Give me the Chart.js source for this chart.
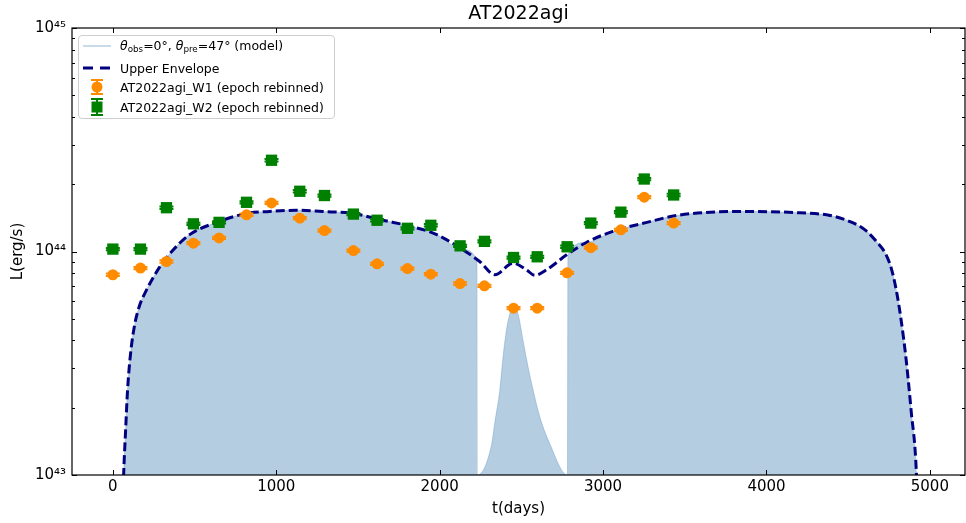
<!DOCTYPE html>
<html lang="en">
<head>
<meta charset="UTF-8">
<title>AT2022agi</title>
<script src="https://cdn.jsdelivr.net/npm/chart.js@4.4.1/dist/chart.umd.min.js"></script>
<style>
  body { margin: 0; background: #fff; font-family: 'DejaVu Sans', sans-serif; }
  #wrap { position: relative; width: 966px; height: 523px; }
  #title { position: absolute; left: 72px; width: 893px; top: 1px; text-align: center; font-size: 19px; line-height: 22px; color: #000; }
  #legend { position: absolute; left: 78px; top: 35px; width: 255px; height: 82px; border: 1px solid #cfcfcf; border-radius: 4px; background: rgba(255,255,255,0.85); font-size: 12.5px; color: #000; }
  .row { position: absolute; left: 0; height: 20px; display: flex; align-items: center; white-space: nowrap; }
  .row svg { margin-left: 4px; margin-right: 9px; }
  sub { font-size: 70%; vertical-align: -0.25em; }
</style>
</head>
<body>
<div id="wrap">
  <canvas id="chart" width="966" height="523"></canvas>
  <div id="title">AT2022agi</div>
  <div id="legend">
    <div class="row" style="top:0px">
      <svg width="28" height="20"><line x1="0" y1="10" x2="28" y2="10" stroke="rgba(70,130,180,0.45)" stroke-width="1.3"/></svg>
      <span><i>θ</i><sub>obs</sub>=0°, <i>θ</i><sub>pre</sub>=47° (model)</span>
    </div>
    <div class="row" style="top:22px">
      <svg width="28" height="20"><line x1="0" y1="10" x2="28" y2="10" stroke="#000080" stroke-width="3" stroke-dasharray="10 7"/></svg>
      <span>Upper Envelope</span>
    </div>
    <div class="row" style="top:41px">
      <svg width="28" height="20">
        <line x1="14" y1="3" x2="14" y2="17" stroke="#ff8c00" stroke-width="2"/>
        <line x1="8" y1="3" x2="20" y2="3" stroke="#ff8c00" stroke-width="2"/>
        <line x1="8" y1="17" x2="20" y2="17" stroke="#ff8c00" stroke-width="2"/>
        <circle cx="14" cy="10" r="5.5" fill="#ff8c00"/>
      </svg>
      <span>AT2022agi_W1 (epoch rebinned)</span>
    </div>
    <div class="row" style="top:61px">
      <svg width="28" height="20">
        <line x1="14" y1="2" x2="14" y2="18" stroke="#008000" stroke-width="2"/>
        <line x1="8" y1="2" x2="20" y2="2" stroke="#008000" stroke-width="2"/>
        <line x1="8" y1="18" x2="20" y2="18" stroke="#008000" stroke-width="2"/>
        <rect x="8.5" y="4.5" width="11" height="11" fill="#008000"/>
      </svg>
      <span>AT2022agi_W2 (epoch rebinned)</span>
    </div>
  </div>
</div>

<script>
// epochs (days) shared by both bands
const tDays = [0, 169, 328, 493, 650, 818, 971, 1144, 1295, 1472, 1617, 1803, 1946, 2125, 2274, 2452, 2597, 2780, 2925, 3109, 3252, 3432];

const w1Lum = [7.87e43, 8.43e43, 9.02e43, 1.09e44, 1.15e44, 1.46e44, 1.65e44, 1.41e44, 1.24e44, 1.01e44, 8.81e43,
               8.39e43, 7.92e43, 7.19e43, 7.02e43, 5.58e43, 5.58e43, 8.03e43, 1.04e44, 1.25e44, 1.75e44, 1.34e44];
const w1Err = [0.94e42, 1.0e42, 1.1e42, 1.3e42, 1.4e42, 1.75e42, 2.0e42, 1.7e42, 1.5e42, 1.2e42, 1.05e42,
               1.0e42, 0.95e42, 0.86e42, 0.84e42, 0.67e42, 0.67e42, 0.96e42, 1.25e42, 1.5e42, 2.1e42, 1.6e42];

const w2Lum = [1.025e44, 1.025e44, 1.57e44, 1.33e44, 1.35e44, 1.66e44, 2.56e44, 1.86e44, 1.78e44, 1.47e44, 1.38e44,
               1.27e44, 1.31e44, 1.06e44, 1.11e44, 9.40e43, 9.47e43, 1.05e44, 1.34e44, 1.50e44, 2.11e44, 1.79e44];
const w2Err = [1.23e42, 1.23e42, 1.9e42, 1.6e42, 1.6e42, 2.0e42, 3.1e42, 2.2e42, 2.1e42, 1.8e42, 1.65e42,
               1.5e42, 1.6e42, 1.3e42, 1.3e42, 1.1e42, 1.1e42, 1.26e42, 1.6e42, 1.8e42, 2.5e42, 2.1e42];

// upper envelope curve
const envT   = [55, 66, 78, 90, 108, 133, 164, 194, 286, 366, 470, 635, 819, 960, 1125, 1284, 1468, 1652, 1835, 1982,
                2141, 2245, 2338, 2449, 2531, 2582, 2654, 2777, 2900, 3060, 3268, 3451, 3837, 4205, 4389, 4512,
                4603, 4677, 4726, 4763, 4794, 4824, 4855, 4885, 4918, 4930];
const envLum = [5e42, 1.0e43, 1.58e43, 2.40e43, 3.47e43, 4.68e43, 5.75e43, 6.46e43, 8.51e43, 1.01e44, 1.19e44, 1.35e44,
                1.48e44, 1.51e44, 1.53e44, 1.51e44, 1.48e44, 1.38e44, 1.29e44, 1.19e44,
                1.02e44, 9.02e43, 7.87e43, 8.87e43, 8.28e43, 7.82e43, 8.28e43, 9.66e43, 1.10e44, 1.23e44, 1.35e44,
                1.45e44, 1.51e44, 1.49e44, 1.45e44, 1.36e44, 1.25e44, 1.10e44, 9.86e43, 8.45e43, 6.74e43, 4.94e43,
                3.27e43, 1.95e43, 1.0e43, 5e42];

// model for theta_obs = 0, theta_pre = 47
const modelT   = [55, 66, 78, 90, 108, 133, 164, 194, 286, 366, 470, 635, 819, 960, 1125, 1284, 1468, 1652, 1835, 1982,
                  2141, 2228, 2231, 2317, 2337, 2368, 2388, 2409, 2429, 2448, 2480, 2511, 2541, 2572, 2613, 2674,
                  2782, 2785, 2900, 3060, 3268, 3451, 3837, 4205, 4389, 4512, 4603, 4677, 4726, 4763, 4794, 4824,
                  4855, 4885, 4918, 4930];
const modelLum = [5e42, 1.0e43, 1.58e43, 2.40e43, 3.47e43, 4.68e43, 5.75e43, 6.46e43, 8.51e43, 1.01e44, 1.19e44, 1.35e44,
                  1.48e44, 1.51e44, 1.53e44, 1.51e44, 1.48e44, 1.38e44, 1.29e44, 1.19e44,
                  1.02e44, 9.12e43, 1.0e43, 1.36e43, 1.71e43, 2.40e43, 3.39e43, 4.47e43, 5.25e43, 5.75e43, 5.25e43,
                  3.98e43, 3.05e43, 2.40e43, 1.82e43, 1.38e43,
                  1.0e43, 9.7e43, 1.10e44, 1.23e44, 1.35e44, 1.45e44, 1.51e44, 1.49e44, 1.45e44, 1.36e44, 1.25e44,
                  1.10e44, 9.86e43, 8.45e43, 6.74e43, 4.94e43, 3.27e43, 1.95e43, 1.0e43, 5e42];

const xTicks = [0, 1000, 2000, 3000, 4000, 5000];
const yTicks = [1e43, 1e44, 1e45];
const yTickLabels = ['10⁴³', '10⁴⁴', '10⁴⁵'];
const yMinorTicks = [2e43, 3e43, 4e43, 5e43, 6e43, 7e43, 8e43, 9e43, 2e44, 3e44, 4e44, 5e44, 6e44, 7e44, 8e44, 9e44];

const pts = (xs, ys) => xs.map((x, i) => ({x: x, y: ys[i]}));

// error bar caps drawn on top of each marker
const errorCaps = {
    id: 'errorCaps',
    afterDatasetDraw(chart, args) {
        const ds = chart.data.datasets[args.index];
        if (!ds.errors) return;
        const ctx = chart.ctx;
        const xs = chart.scales.x, ys = chart.scales.y;
        ctx.save();
        ctx.strokeStyle = ds.backgroundColor;
        ctx.lineWidth = 2;
        ds.data.forEach((p, i) => {
            const px = xs.getPixelForValue(p.x);
            const lo = ys.getPixelForValue(p.y - ds.errors[i]);
            const hi = ys.getPixelForValue(p.y + ds.errors[i]);
            ctx.beginPath();
            ctx.moveTo(px, lo); ctx.lineTo(px, hi);
            ctx.moveTo(px - 7, lo); ctx.lineTo(px + 7, lo);
            ctx.moveTo(px - 7, hi); ctx.lineTo(px + 7, hi);
            ctx.stroke();
        });
        ctx.restore();
    }
};

// frame on all four sides with inward ticks
const frame = {
    id: 'frame',
    afterDraw(chart) {
        const {ctx, chartArea: a} = chart;
        const xs = chart.scales.x, ys = chart.scales.y;
        ctx.save();
        ctx.strokeStyle = '#000';
        ctx.lineWidth = 1.2;
        ctx.strokeRect(a.left, a.top, a.right - a.left, a.bottom - a.top);
        ctx.lineWidth = 1;
        ctx.beginPath();
        xTicks.forEach(v => {
            const px = Math.round(xs.getPixelForValue(v)) + 0.5;
            ctx.moveTo(px, a.bottom); ctx.lineTo(px, a.bottom - 5);
            ctx.moveTo(px, a.top); ctx.lineTo(px, a.top + 5);
        });
        yTicks.forEach(v => {
            const py = Math.round(ys.getPixelForValue(v)) + 0.5;
            ctx.moveTo(a.left, py); ctx.lineTo(a.left + 5, py);
            ctx.moveTo(a.right, py); ctx.lineTo(a.right - 5, py);
        });
        yMinorTicks.forEach(v => {
            const py = Math.round(ys.getPixelForValue(v)) + 0.5;
            ctx.moveTo(a.left, py); ctx.lineTo(a.left + 3, py);
            ctx.moveTo(a.right, py); ctx.lineTo(a.right - 3, py);
        });
        ctx.stroke();
        ctx.restore();
    }
};

new Chart(document.getElementById('chart'), {
    type: 'scatter',
    data: {
        datasets: [
            {
                label: 'AT2022agi_W2 (epoch rebinned)',
                data: pts(tDays, w2Lum),
                errors: w2Err,
                backgroundColor: '#008000',
                borderColor: '#008000',
                borderWidth: 0,
                pointStyle: 'rect',
                pointRadius: 8,
                order: 0
            },
            {
                label: 'AT2022agi_W1 (epoch rebinned)',
                data: pts(tDays, w1Lum),
                errors: w1Err,
                backgroundColor: '#ff8c00',
                borderColor: '#ff8c00',
                borderWidth: 0,
                pointStyle: 'circle',
                pointRadius: 5.5,
                order: 1
            },
            {
                label: 'Upper Envelope',
                data: pts(envT, envLum),
                showLine: true,
                borderColor: '#000080',
                borderWidth: 3,
                borderDash: [9, 4],
                pointRadius: 0,
                cubicInterpolationMode: 'monotone',
                order: 2
            },
            {
                label: 'θobs=0°, θpre=47° (model)',
                data: pts(modelT, modelLum),
                showLine: true,
                borderColor: 'rgba(70,130,180,0.3)',
                borderWidth: 1,
                backgroundColor: 'rgba(70,130,180,0.4)',
                fill: 'start',
                pointRadius: 0,
                cubicInterpolationMode: 'monotone',
                order: 3
            }
        ]
    },
    options: {
        responsive: false,
        animation: false,
        events: [],
        layout: { autoPadding: false, padding: { top: 28, right: 1, left: 0, bottom: 0 } },
        plugins: {
            legend: { display: false },
            tooltip: { enabled: false }
        },
        scales: {
            x: {
                type: 'linear',
                min: -250,
                max: 5215,
                afterBuildTicks: s => { s.ticks = xTicks.map(v => ({value: v})); },
                afterFit: s => { s.height = 48; s.paddingLeft = 0; s.paddingRight = 0; },
                grid: { display: false, drawTicks: false },
                border: { display: false },
                ticks: { color: '#000', padding: 3, font: { family: 'DejaVu Sans', size: 15 }, maxRotation: 0, callback: v => String(v) },
                title: { display: true, text: 't(days)', color: '#000', font: { family: 'DejaVu Sans', size: 15 }, padding: { top: 0, bottom: 5 } }
            },
            y: {
                type: 'logarithmic',
                min: 1e43,
                max: 1e45,
                afterBuildTicks: s => { s.ticks = yTicks.map(v => ({value: v})); },
                afterFit: s => { s.width = 72; s.paddingTop = 0; s.paddingBottom = 0; },
                grid: { display: false, drawTicks: false },
                border: { display: false },
                ticks: {
                    color: '#000',
                    padding: 6,
                    font: { family: 'DejaVu Sans', size: 15 },
                    callback: v => yTickLabels[yTicks.indexOf(v)]
                },
                title: { display: true, text: 'L(erg/s)', color: '#000', font: { family: 'DejaVu Sans', size: 15 }, padding: { top: 9, bottom: 0 } }
            }
        }
    },
    plugins: [errorCaps, frame]
});
</script>
</body>
</html>
